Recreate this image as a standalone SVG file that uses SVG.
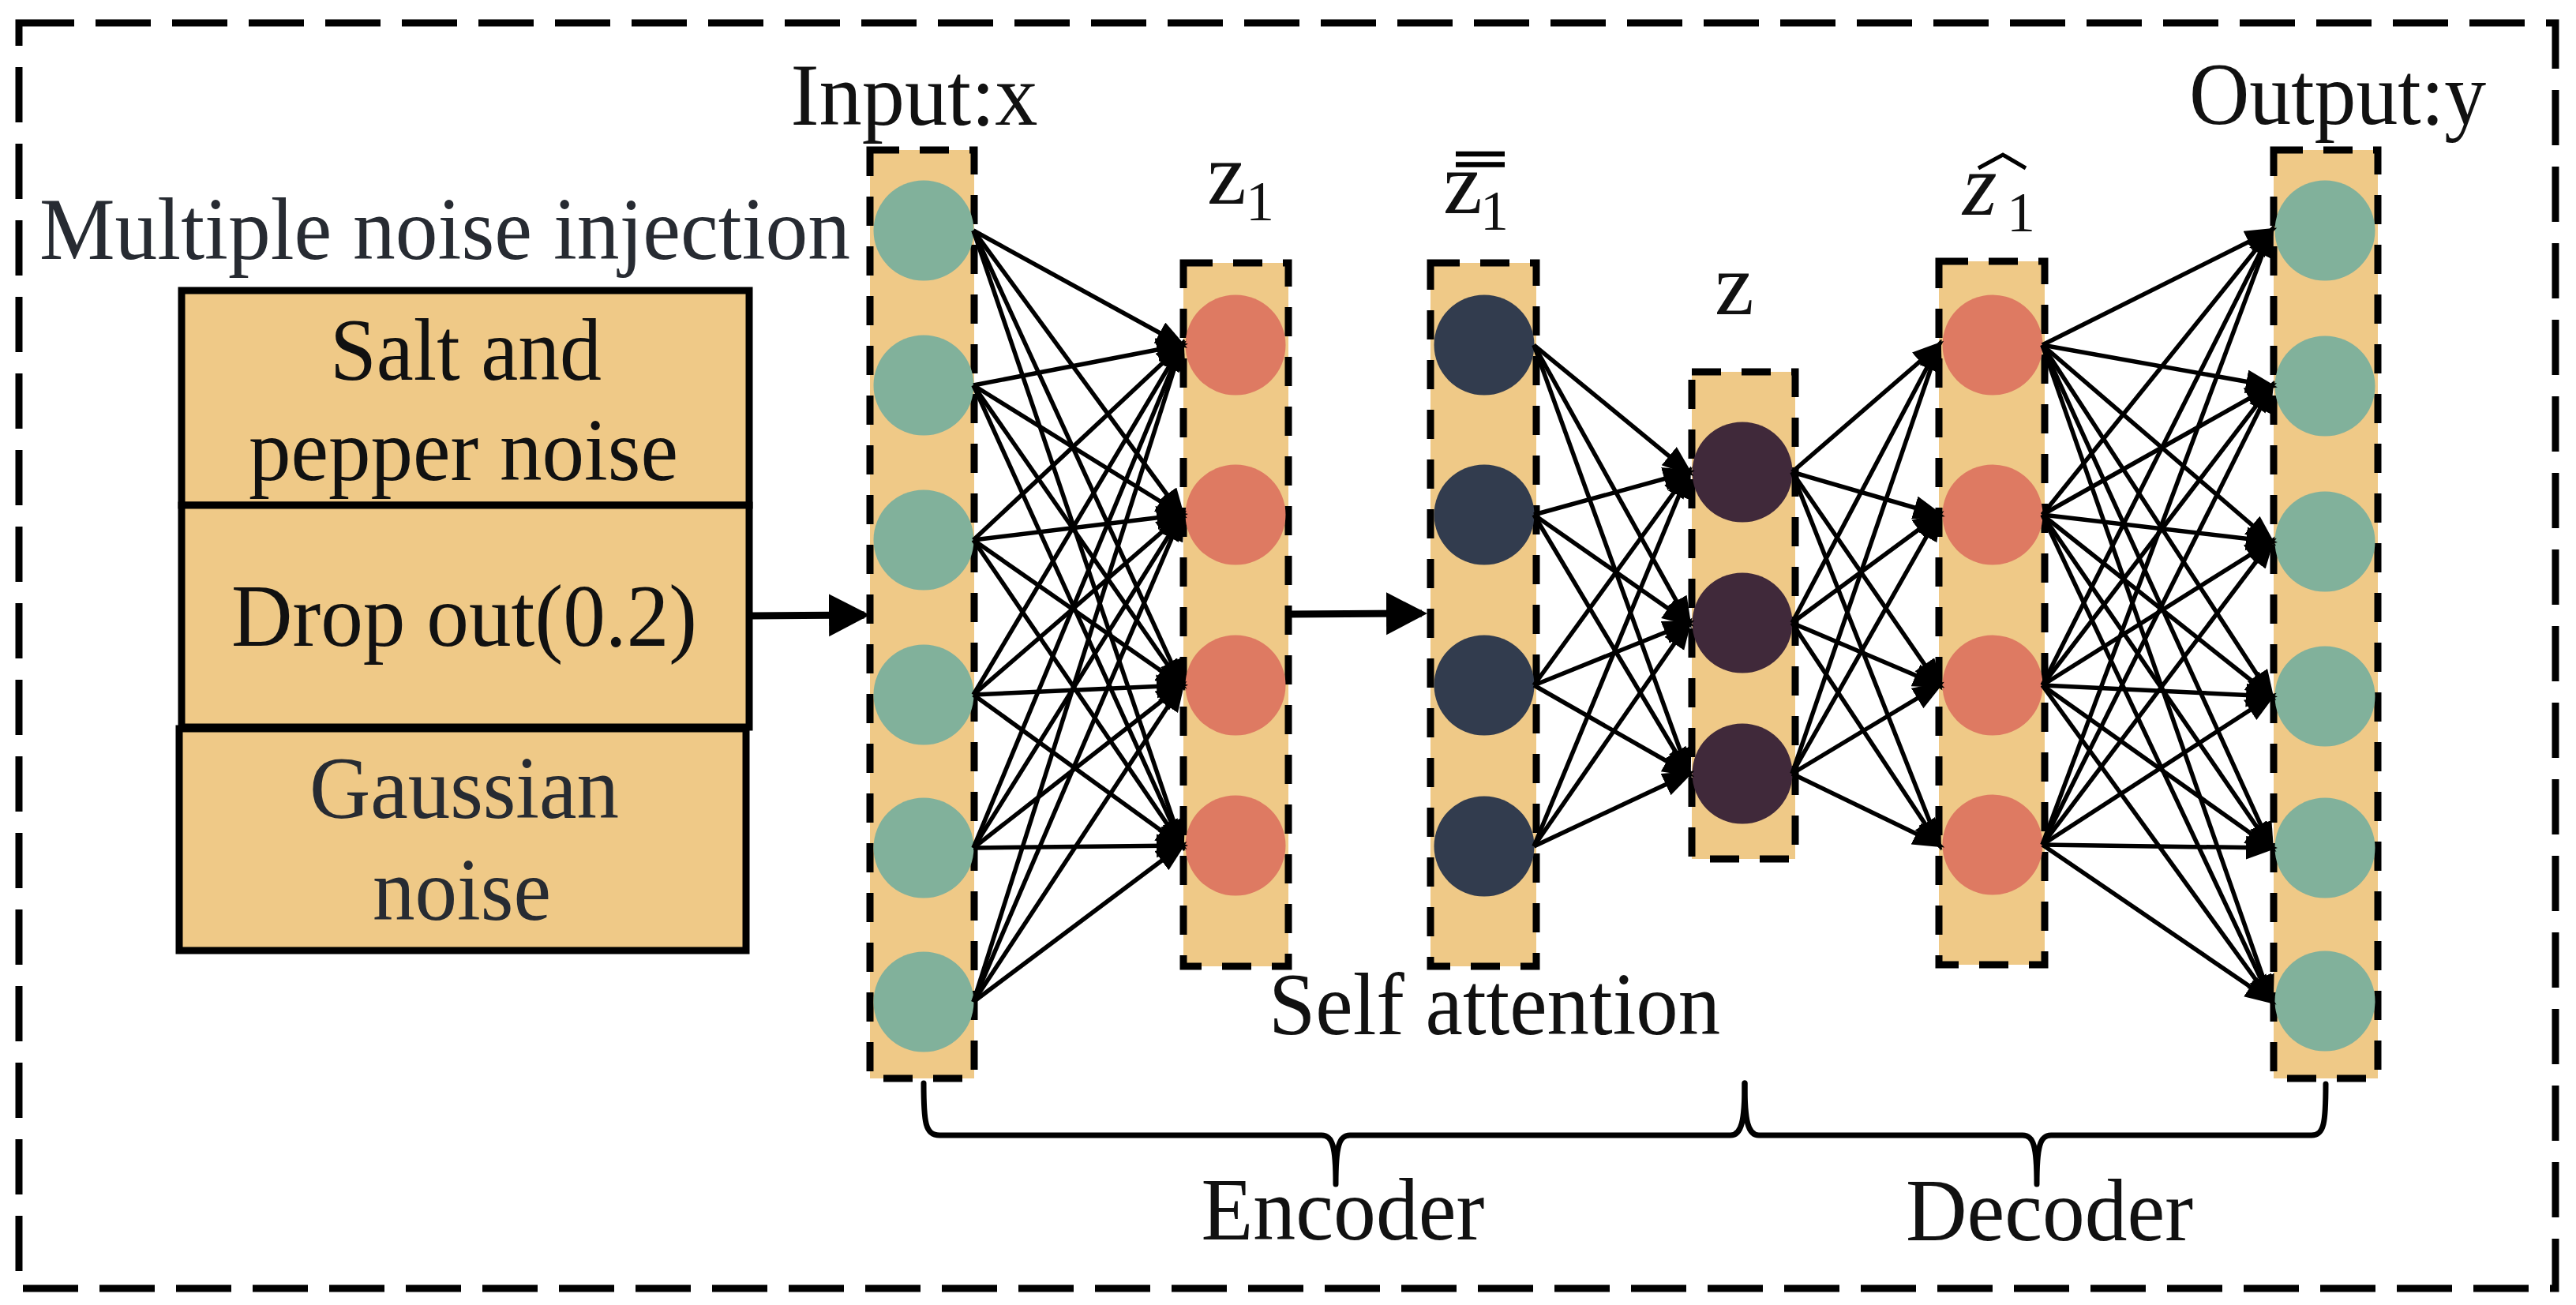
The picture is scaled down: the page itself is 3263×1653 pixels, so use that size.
<svg xmlns="http://www.w3.org/2000/svg" width="3263" height="1653" viewBox="0 0 3263 1653">
<defs>
<style>
.t{font-family:"Liberation Serif","Times New Roman",serif;font-size:112px;fill:#111;}
.dk{fill:#272b32;}
.mid{text-anchor:middle;}
.sub{font-size:72px;}
.col{fill:#efc987;stroke:#000;stroke-width:9;stroke-dasharray:37 26;}
.box{fill:#efc987;stroke:#000;stroke-width:9;}
.teal{fill:#81b19b;}
.org{fill:#de7a62;}
.navy{fill:#323c4e;}
.purp{fill:#40293a;}
.e{stroke:#000;stroke-width:5.5;marker-end:url(#ah);}
.big{stroke:#000;stroke-width:9;fill:none;marker-end:url(#bh);}
.brace{fill:none;stroke:#000;stroke-width:7;stroke-linecap:round;stroke-linejoin:round;}
</style>
<marker id="ah" markerUnits="userSpaceOnUse" markerWidth="44" markerHeight="32" refX="32" refY="15" orient="auto" viewBox="0 0 44 32">
<path d="M0,0 L40,15 L0,30 Z" fill="#000"/>
</marker>
<marker id="bh" markerUnits="userSpaceOnUse" markerWidth="56" markerHeight="56" refX="45" refY="27" orient="auto" viewBox="0 0 56 56">
<path d="M0,0 L52,27 L0,54 Z" fill="#000"/>
</marker>
</defs>
<rect width="3263" height="1653" fill="#fff"/>
<rect id="frame" x="24" y="29" width="3213" height="1603" fill="none" stroke="#000" stroke-width="9" stroke-dasharray="70 27"/>

<text class="t dk" x="50" y="328" textLength="1027" lengthAdjust="spacingAndGlyphs">Multiple noise injection</text>

<g id="noise-salt">
<rect class="box" x="230" y="368" width="719" height="272"/>
<text class="t mid" x="590" y="481" textLength="344" lengthAdjust="spacingAndGlyphs">Salt and</text>
<text class="t mid" x="587" y="608" textLength="544" lengthAdjust="spacingAndGlyphs">pepper noise</text>
</g>
<g id="noise-dropout">
<rect class="box" x="230" y="640" width="719" height="281"/>
<text class="t mid" x="588" y="818" textLength="590" lengthAdjust="spacingAndGlyphs">Drop out(0.2)</text>
</g>
<g id="noise-gaussian">
<rect class="box" x="227" y="923" width="718" height="281"/>
<text class="t dk mid" x="588" y="1036" textLength="392" lengthAdjust="spacingAndGlyphs">Gaussian</text>
<text class="t dk mid" x="585" y="1165" textLength="226" lengthAdjust="spacingAndGlyphs">noise</text>
</g>

<g id="input-layer">
<text class="t mid" x="1158" y="158" textLength="313" lengthAdjust="spacingAndGlyphs">Input:x</text>
<rect class="col" x="1102" y="190" width="132" height="1176"/>
<circle class="teal" cx="1170" cy="292" r="63.5"/>
<circle class="teal" cx="1170" cy="488" r="63.5"/>
<circle class="teal" cx="1170" cy="684" r="63.5"/>
<circle class="teal" cx="1170" cy="880" r="63.5"/>
<circle class="teal" cx="1170" cy="1074" r="63.5"/>
<circle class="teal" cx="1170" cy="1269" r="63.5"/>
</g>

<g id="z1-layer">
<text class="t" x="1529" y="258">z</text>
<text class="t sub" x="1578" y="279">1</text>
<rect class="col" x="1499" y="333" width="133" height="891"/>
<circle class="org" cx="1565" cy="437" r="63.5"/>
<circle class="org" cx="1565" cy="652" r="63.5"/>
<circle class="org" cx="1565" cy="868" r="63.5"/>
<circle class="org" cx="1565" cy="1071" r="63.5"/>
</g>

<g id="z1bar-layer">
<line x1="1844" y1="195" x2="1906" y2="195" stroke="#000" stroke-width="6.5"/>
<line x1="1844" y1="208.5" x2="1906" y2="208.5" stroke="#000" stroke-width="6.5"/>
<text class="t" x="1828" y="270">z</text>
<text class="t sub" x="1875" y="291">1</text>
<rect class="col" x="1812" y="333" width="134" height="891"/>
<circle class="navy" cx="1880" cy="437" r="63.5"/>
<circle class="navy" cx="1880" cy="652" r="63.5"/>
<circle class="navy" cx="1880" cy="868" r="63.5"/>
<circle class="navy" cx="1880" cy="1072" r="63.5"/>
</g>

<g id="z-layer">
<text class="t" x="2172" y="398">z</text>
<rect class="col" x="2143" y="471" width="131" height="617"/>
<circle class="purp" cx="2207" cy="598" r="63.5"/>
<circle class="purp" cx="2207" cy="789" r="63.5"/>
<circle class="purp" cx="2207" cy="980" r="63.5"/>
</g>

<g id="z1hat-layer">
<polyline points="2506,213 2537,196 2566,213" fill="none" stroke="#000" stroke-width="5"/>
<text class="t" x="2486" y="272" font-style="italic">z</text>
<text class="t sub" x="2542" y="293">1</text>
<rect class="col" x="2456" y="331" width="134" height="891"/>
<circle class="org" cx="2524" cy="437" r="63.5"/>
<circle class="org" cx="2524" cy="652" r="63.5"/>
<circle class="org" cx="2524" cy="868" r="63.5"/>
<circle class="org" cx="2524" cy="1070" r="63.5"/>
</g>

<g id="output-layer">
<text class="t mid" x="2961" y="157" textLength="376" lengthAdjust="spacingAndGlyphs">Output:y</text>
<rect class="col" x="2880" y="190" width="132" height="1176"/>
<circle class="teal" cx="2945" cy="292" r="63.5"/>
<circle class="teal" cx="2945" cy="489" r="63.5"/>
<circle class="teal" cx="2945" cy="686" r="63.5"/>
<circle class="teal" cx="2945" cy="882" r="63.5"/>
<circle class="teal" cx="2945" cy="1074" r="63.5"/>
<circle class="teal" cx="2945" cy="1268" r="63.5"/>
</g>

<g id="connectors">
<line class="big" x1="953" y1="780" x2="1095" y2="779"/>
<line class="big" x1="1632" y1="778" x2="1801" y2="777"/>
<!-- input -> z1 -->
<line class="e" x1="1233" y1="292" x2="1497" y2="437"/>
<line class="e" x1="1233" y1="292" x2="1497" y2="652"/>
<line class="e" x1="1233" y1="292" x2="1497" y2="868"/>
<line class="e" x1="1233" y1="292" x2="1497" y2="1071"/>
<line class="e" x1="1233" y1="488" x2="1497" y2="437"/>
<line class="e" x1="1233" y1="488" x2="1497" y2="652"/>
<line class="e" x1="1233" y1="488" x2="1497" y2="868"/>
<line class="e" x1="1233" y1="488" x2="1497" y2="1071"/>
<line class="e" x1="1233" y1="684" x2="1497" y2="437"/>
<line class="e" x1="1233" y1="684" x2="1497" y2="652"/>
<line class="e" x1="1233" y1="684" x2="1497" y2="868"/>
<line class="e" x1="1233" y1="684" x2="1497" y2="1071"/>
<line class="e" x1="1233" y1="880" x2="1497" y2="437"/>
<line class="e" x1="1233" y1="880" x2="1497" y2="652"/>
<line class="e" x1="1233" y1="880" x2="1497" y2="868"/>
<line class="e" x1="1233" y1="880" x2="1497" y2="1071"/>
<line class="e" x1="1233" y1="1074" x2="1497" y2="437"/>
<line class="e" x1="1233" y1="1074" x2="1497" y2="652"/>
<line class="e" x1="1233" y1="1074" x2="1497" y2="868"/>
<line class="e" x1="1233" y1="1074" x2="1497" y2="1071"/>
<line class="e" x1="1233" y1="1269" x2="1497" y2="437"/>
<line class="e" x1="1233" y1="1269" x2="1497" y2="652"/>
<line class="e" x1="1233" y1="1269" x2="1497" y2="868"/>
<line class="e" x1="1233" y1="1269" x2="1497" y2="1071"/>
<!-- z1bar -> z -->
<line class="e" x1="1943" y1="437" x2="2139" y2="598"/>
<line class="e" x1="1943" y1="437" x2="2139" y2="789"/>
<line class="e" x1="1943" y1="437" x2="2139" y2="980"/>
<line class="e" x1="1943" y1="652" x2="2139" y2="598"/>
<line class="e" x1="1943" y1="652" x2="2139" y2="789"/>
<line class="e" x1="1943" y1="652" x2="2139" y2="980"/>
<line class="e" x1="1943" y1="868" x2="2139" y2="598"/>
<line class="e" x1="1943" y1="868" x2="2139" y2="789"/>
<line class="e" x1="1943" y1="868" x2="2139" y2="980"/>
<line class="e" x1="1943" y1="1072" x2="2139" y2="598"/>
<line class="e" x1="1943" y1="1072" x2="2139" y2="789"/>
<line class="e" x1="1943" y1="1072" x2="2139" y2="980"/>
<!-- z -> z1hat -->
<line class="e" x1="2270" y1="598" x2="2456" y2="437"/>
<line class="e" x1="2270" y1="598" x2="2456" y2="652"/>
<line class="e" x1="2270" y1="598" x2="2456" y2="868"/>
<line class="e" x1="2270" y1="598" x2="2456" y2="1070"/>
<line class="e" x1="2270" y1="789" x2="2456" y2="437"/>
<line class="e" x1="2270" y1="789" x2="2456" y2="652"/>
<line class="e" x1="2270" y1="789" x2="2456" y2="868"/>
<line class="e" x1="2270" y1="789" x2="2456" y2="1070"/>
<line class="e" x1="2270" y1="980" x2="2456" y2="437"/>
<line class="e" x1="2270" y1="980" x2="2456" y2="652"/>
<line class="e" x1="2270" y1="980" x2="2456" y2="868"/>
<line class="e" x1="2270" y1="980" x2="2456" y2="1070"/>
<!-- z1hat -> output -->
<line class="e" x1="2587" y1="437" x2="2877" y2="292"/>
<line class="e" x1="2587" y1="437" x2="2877" y2="489"/>
<line class="e" x1="2587" y1="437" x2="2877" y2="686"/>
<line class="e" x1="2587" y1="437" x2="2877" y2="882"/>
<line class="e" x1="2587" y1="437" x2="2877" y2="1074"/>
<line class="e" x1="2587" y1="437" x2="2877" y2="1268"/>
<line class="e" x1="2587" y1="652" x2="2877" y2="292"/>
<line class="e" x1="2587" y1="652" x2="2877" y2="489"/>
<line class="e" x1="2587" y1="652" x2="2877" y2="686"/>
<line class="e" x1="2587" y1="652" x2="2877" y2="882"/>
<line class="e" x1="2587" y1="652" x2="2877" y2="1074"/>
<line class="e" x1="2587" y1="652" x2="2877" y2="1268"/>
<line class="e" x1="2587" y1="868" x2="2877" y2="292"/>
<line class="e" x1="2587" y1="868" x2="2877" y2="489"/>
<line class="e" x1="2587" y1="868" x2="2877" y2="686"/>
<line class="e" x1="2587" y1="868" x2="2877" y2="882"/>
<line class="e" x1="2587" y1="868" x2="2877" y2="1074"/>
<line class="e" x1="2587" y1="868" x2="2877" y2="1268"/>
<line class="e" x1="2587" y1="1070" x2="2877" y2="292"/>
<line class="e" x1="2587" y1="1070" x2="2877" y2="489"/>
<line class="e" x1="2587" y1="1070" x2="2877" y2="686"/>
<line class="e" x1="2587" y1="1070" x2="2877" y2="882"/>
<line class="e" x1="2587" y1="1070" x2="2877" y2="1074"/>
<line class="e" x1="2587" y1="1070" x2="2877" y2="1268"/>
</g>

<g id="encoder-brace">
<path class="brace" d="M1170,1372 C1170,1422 1172,1438 1190,1438 L1674,1438 C1688,1438 1692,1452 1692,1500 C1692,1452 1696,1438 1710,1438 L2192,1438 C2206,1438 2210,1420 2210,1372"/>
<text class="t mid" x="1701" y="1570" textLength="359" lengthAdjust="spacingAndGlyphs">Encoder</text>
</g>
<g id="decoder-brace">
<path class="brace" d="M2210,1372 C2210,1420 2214,1438 2228,1438 L2562,1438 C2576,1438 2580,1452 2580,1500 C2580,1452 2584,1438 2598,1438 L2928,1438 C2944,1438 2946,1422 2946,1373"/>
<text class="t mid" x="2596" y="1571" textLength="364" lengthAdjust="spacingAndGlyphs">Decoder</text>
</g>

<text id="self-attention" class="t mid" x="1893" y="1310" textLength="572" lengthAdjust="spacingAndGlyphs">Self attention</text>
</svg>
